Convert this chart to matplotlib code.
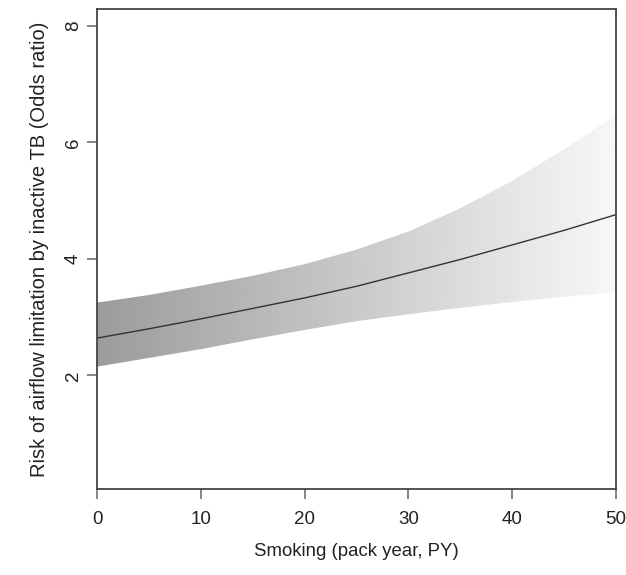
import numpy as np
import matplotlib.pyplot as plt
from matplotlib.path import Path
from matplotlib.patches import PathPatch

plt.rcParams['font.family'] = ['Liberation Sans', 'DejaVu Sans']

# pack years and odds ratio with 95% band
pack_year = [0, 5, 10, 15, 20, 25, 30, 35, 40, 45, 50]
odds_ratio = [2.64, 2.80, 2.97, 3.15, 3.33, 3.53, 3.76, 3.99, 4.24, 4.49, 4.76]
upper_ci = [3.25, 3.38, 3.54, 3.71, 3.91, 4.16, 4.47, 4.87, 5.34, 5.88, 6.47]
lower_ci = [2.15, 2.30, 2.45, 2.62, 2.78, 2.93, 3.05, 3.16, 3.26, 3.35, 3.43]

x_ticks = [0, 10, 20, 30, 40, 50]
y_ticks = [2, 4, 6, 8]


def main():
    fig = plt.figure(figsize=(6.26, 5.75), dpi=100)
    ax = fig.add_axes([0.155, 0.1496, 0.829, 0.8347])

    x = np.array(pack_year)
    lo = np.array(lower_ci)
    hi = np.array(upper_ci)

    # grey gradient clipped to the confidence band
    verts = np.vstack([np.column_stack([x, hi]),
                       np.column_stack([x[::-1], lo[::-1]]),
                       [[x[0], hi[0]]]])
    band = PathPatch(Path(verts, closed=True), facecolor='none', edgecolor='none')
    ax.add_patch(band)
    grad = np.linspace(0.61, 0.97, 256).reshape(1, -1)
    img = ax.imshow(grad, cmap='gray', vmin=0, vmax=1, aspect='auto',
                    extent=[x[0], x[-1], lo.min(), hi.max()], origin='lower',
                    interpolation='bilinear', zorder=1)
    img.set_clip_path(band)

    ax.plot(x, odds_ratio, color='#333333', lw=1.0, zorder=2)

    ax.set_xlim(0, 50)
    ax.set_ylim(0.05, 8.29)
    ax.set_xticks(x_ticks)
    ax.set_yticks(y_ticks)
    ax.set_yticklabels([str(t) for t in y_ticks], rotation=90, va='center')

    for s in ax.spines.values():
        s.set_color('#444444')
        s.set_linewidth(1.3)
    ax.tick_params(axis='both', length=7, width=1.1, color='#666666',
                   labelsize=13.5, labelcolor='#222222')
    ax.tick_params(axis='x', pad=9)
    ax.tick_params(axis='y', pad=4)

    ax.set_xlabel('Smoking (pack year, PY)', fontsize=13.4, color='#222222', labelpad=11)
    ax.set_ylabel('Risk of airflow limitation by inactive TB (Odds ratio)',
                  fontsize=14.5, color='#222222', labelpad=11)

    fig.savefig('out.png', dpi=100)


if __name__ == "__main__":
    main()
